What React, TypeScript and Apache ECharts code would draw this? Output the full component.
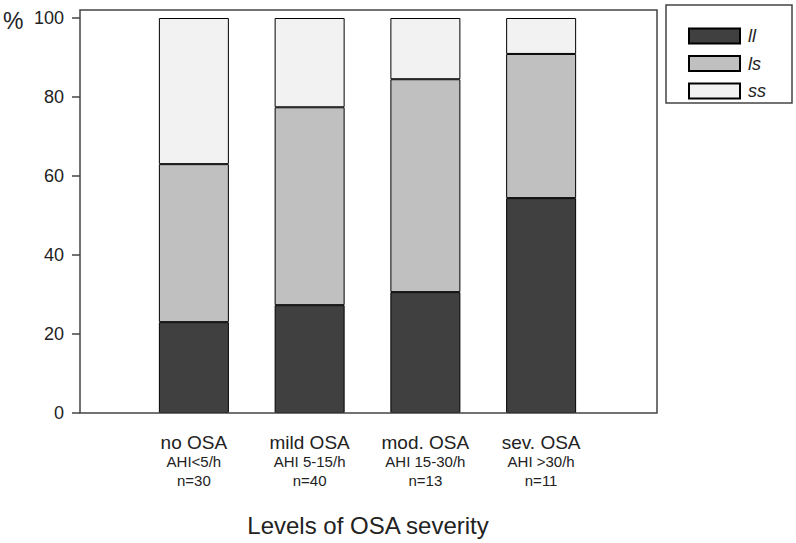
import React, { useEffect, useRef } from "react";
import * as echarts from "echarts";

const categories = ["no OSA", "mild OSA", "mod. OSA", "sev. OSA"];
const ahiLabels = ["AHI<5/h", "AHI 5-15/h", "AHI 15-30/h", "AHI >30/h"];
const nLabels = ["n=30", "n=40", "n=13", "n=11"];
const llValues = [23.0, 27.3, 30.6, 54.4];
const lsValues = [40.0, 50.1, 53.9, 36.5];
const ssValues = [37.0, 22.6, 15.5, 9.1];
const yTicks = { min: 0, max: 100, interval: 20 };

const FONT = "'Liberation Sans', Arial, sans-serif";

export default function App() {
  const ref = useRef<HTMLDivElement>(null);
  useEffect(() => {
    if (!ref.current) return;
    const chart = echarts.init(ref.current, null, { renderer: "svg" });
    const barStyle = (color: string) => ({
      color,
      borderColor: "#000",
      borderWidth: 1,
    });
    chart.setOption({
      animation: false,
      textStyle: { fontFamily: FONT },
      grid: [
        { left: 136, width: 463, top: 18, bottom: 130 },
        { left: 80, right: 139, top: 18, bottom: 130 },
      ],
      xAxis: [
        {
          type: "category",
          gridIndex: 0,
          data: categories,
          axisLine: { show: false },
          axisTick: { show: false },
          axisLabel: {
            margin: 19,
            interval: 0,
            formatter: (_v: string, i: number) =>
              `{a|${categories[i]}}\n{b|${ahiLabels[i]}}\n{b|${nLabels[i]}}`,
            rich: {
              a: { fontSize: 19, lineHeight: 20, color: "#222", fontFamily: FONT },
              b: { fontSize: 15, lineHeight: 19, color: "#222", fontFamily: FONT },
            },
          },
        },
        { type: "value", gridIndex: 1, show: false },
      ],
      yAxis: [
        { type: "value", gridIndex: 0, min: 0, max: 100, show: false },
        {
          type: "value",
          gridIndex: 1,
          min: yTicks.min,
          max: yTicks.max,
          interval: yTicks.interval,
          axisLine: { show: false },
          axisTick: { show: true, length: 8, lineStyle: { color: "#444", width: 1.5 } },
          splitLine: { show: false },
          axisLabel: { fontSize: 18, color: "#222", margin: 16, fontFamily: FONT },
        },
      ],
      legend: {
        orient: "vertical",
        left: 683,
        top: 22,
        itemWidth: 51,
        itemHeight: 15,
        itemGap: 9.5,
        icon: "rect",
        textStyle: { fontSize: 18, fontStyle: "italic", color: "#222", fontFamily: FONT, padding: [0, 0, 0, 3] },
        data: ["ll", "ls", "ss"],
      },
      graphic: [
        {
          type: "rect",
          shape: { x: 80, y: 10, width: 577, height: 403 },
          style: { fill: "none", stroke: "#444", lineWidth: 1.5 },
          silent: true,
          z: 10,
        },
        {
          type: "rect",
          shape: { x: 666, y: 5, width: 126, height: 98 },
          style: { fill: "none", stroke: "#444", lineWidth: 1.5 },
          silent: true,
        },
        {
          type: "text",
          left: 3,
          top: 9,
          style: { text: "%", fontSize: 23, fill: "#222", fontFamily: FONT },
        },
        {
          type: "text",
          x: 368,
          y: 525,
          style: {
            text: "Levels of OSA severity",
            fontSize: 24,
            fill: "#222",
            fontFamily: FONT,
            align: "center",
            verticalAlign: "middle",
          },
        },
      ],
      series: [
        { name: "ll", type: "bar", stack: "s", barWidth: 70, data: llValues, itemStyle: barStyle("#404040") },
        { name: "ls", type: "bar", stack: "s", barWidth: 70, data: lsValues, itemStyle: barStyle("#c0c0c0") },
        { name: "ss", type: "bar", stack: "s", barWidth: 70, data: ssValues, itemStyle: barStyle("#f2f2f2") },
      ],
    });
    return () => chart.dispose();
  }, []);
  return <div ref={ref} style={{ width: 796, height: 543, position: "absolute", left: 0, top: 0 }} />;
}
